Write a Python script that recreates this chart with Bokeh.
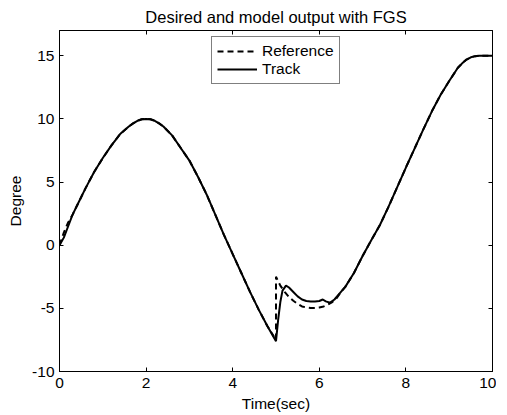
from bokeh.plotting import figure
from bokeh.layouts import row
from bokeh.models import (LinearAxis, Legend, LegendItem, FixedTicker,
                          CustomJSTickFormatter, Range1d, Spacer)
from bokeh.embed import file_html
from bokeh.resources import INLINE

# ---- data ----
time_ref = [0.0, 0.1, 0.2, 0.3, 0.4, 0.6, 0.8, 1.0, 1.2, 1.4, 1.6, 1.7, 1.8, 1.9, 2.0,
            2.1, 2.2, 2.3, 2.4, 2.6, 2.8, 3.0, 3.2, 3.4, 3.6, 3.8, 4.0, 4.2, 4.4, 4.6,
            4.8, 5.0, 5.0, 5.1, 5.2, 5.3, 5.4, 5.5, 5.6, 5.7, 5.8, 5.9, 6.0,
            6.1, 6.2, 6.3, 6.4, 6.5, 6.6, 6.8, 7.0, 7.2, 7.4, 7.6, 7.8, 8.0,
            8.2, 8.4, 8.6, 8.8, 9.0, 9.2, 9.3, 9.4, 9.5, 9.6, 9.7, 9.8, 10.0]
degree_ref = [0.0, 1.0, 1.8, 2.4, 3.1, 4.5, 5.8, 6.9, 7.9, 8.8, 9.4, 9.65, 9.85, 9.97, 10.0,
              9.97, 9.85, 9.65, 9.4, 8.7, 7.7, 6.7, 5.4, 4.0, 2.4, 0.8, -0.7, -2.2, -3.7, -5.1,
              -6.4, -7.5, -2.5, -3.2, -3.7, -4.1, -4.4, -4.65, -4.85, -4.93, -4.97, -4.97, -4.93,
              -4.85, -4.7, -4.5, -4.2, -3.7, -3.3, -2.2, -0.85, 0.4, 1.6, 3.05, 4.6, 6.15,
              7.65, 9.15, 10.6, 11.9, 13.0, 14.05, 14.4, 14.7, 14.88, 14.97, 15.0, 15.0, 15.0]

time_track = [0.0, 0.1, 0.2, 0.3, 0.4, 0.6, 0.8, 1.0, 1.2, 1.4, 1.6, 1.7, 1.8, 1.9, 2.0,
              2.1, 2.2, 2.3, 2.4, 2.6, 2.8, 3.0, 3.2, 3.4, 3.6, 3.8, 4.0, 4.2, 4.4, 4.6,
              4.8, 5.0, 5.05, 5.1, 5.15, 5.23, 5.3, 5.4, 5.5, 5.6, 5.7, 5.8, 5.9,
              6.0, 6.08, 6.15, 6.25, 6.35, 6.5, 6.6, 6.8, 7.0, 7.2, 7.4, 7.6, 7.8,
              8.0, 8.2, 8.4, 8.6, 8.8, 9.0, 9.2, 9.3, 9.4, 9.5, 9.6, 9.7, 9.8, 10.0]
degree_track = [0.0, 0.6, 1.5, 2.4, 3.1, 4.5, 5.8, 6.9, 7.9, 8.8, 9.4, 9.65, 9.85, 9.97, 10.0,
                9.97, 9.85, 9.65, 9.4, 8.7, 7.7, 6.7, 5.4, 4.0, 2.4, 0.8, -0.7, -2.2, -3.7, -5.1,
                -6.4, -7.6, -5.9, -4.5, -3.6, -3.2, -3.35, -3.7, -4.05, -4.3, -4.42, -4.45, -4.45,
                -4.42, -4.3, -4.45, -4.55, -4.3, -3.7, -3.3, -2.2, -0.85, 0.4, 1.6, 3.05, 4.6,
                6.15, 7.65, 9.15, 10.6, 11.9, 13.0, 14.05, 14.4, 14.7, 14.88, 14.97, 15.0, 15.0, 15.0]

x_ticks = [0, 2, 4, 6, 8, 10]
y_ticks = [-10, -5, 0, 5, 10, 15]

FONT = "Liberation Sans"
FS = "15.5px"

p = figure(frame_width=433, frame_height=341,
           x_range=Range1d(0, 10), y_range=Range1d(-10, 17),
           output_backend="svg", toolbar_location=None,
           min_border_left=0, min_border_right=4,
           min_border_top=0, min_border_bottom=0,
           background_fill_color="white", border_fill_color="white")

p.title.text = "Desired and model output with FGS"
p.title.align = "center"
p.title.text_font = FONT
p.title.text_font_size = "16.5px"
p.title.text_font_style = "normal"
p.title.text_color = "black"
p.title.standoff = 10

p.xgrid.visible = False
p.ygrid.visible = False
p.outline_line_color = "black"

r_ref = p.line(time_ref, degree_ref, line_color="black", line_width=2,
               line_dash="6 4")
r_track = p.line(time_track, degree_track, line_color="black", line_width=2)


def style_axis(ax, ticks, show_labels=True):
    ax.ticker = FixedTicker(ticks=ticks)
    ax.major_tick_in = 4
    ax.major_tick_out = 0
    ax.minor_tick_line_color = None
    ax.axis_line_color = "black"
    ax.axis_line_width = 1
    ax.major_tick_line_color = "black"
    ax.major_label_text_font = FONT
    ax.major_label_text_font_size = FS
    ax.major_label_text_color = "black"
    ax.axis_label_text_font = FONT
    ax.axis_label_text_font_size = FS
    ax.axis_label_text_font_style = "normal"
    ax.axis_label_text_color = "black"
    if show_labels:
        ax.formatter = CustomJSTickFormatter(code="return String(tick)")
    else:
        ax.formatter = CustomJSTickFormatter(code="return ''")
        ax.major_label_standoff = 0


style_axis(p.xaxis[0], x_ticks)
style_axis(p.yaxis[0], y_ticks)
p.xaxis[0].axis_label = "Time(sec)"
p.yaxis[0].axis_label = "Degree"
p.xaxis[0].major_label_standoff = 6
p.xaxis[0].axis_label_standoff = 4
p.yaxis[0].major_label_standoff = 5
p.yaxis[0].axis_label_standoff = 5

top_ax = LinearAxis()
style_axis(top_ax, x_ticks, show_labels=False)
p.add_layout(top_ax, "above")
right_ax = LinearAxis()
style_axis(right_ax, y_ticks, show_labels=False)
p.add_layout(right_ax, "right")

legend = Legend(items=[LegendItem(label="Reference", renderers=[r_ref]),
                       LegendItem(label="Track", renderers=[r_track])],
                location=(152, 287))
legend.border_line_color = "black"
legend.border_line_width = 1
legend.background_fill_color = "white"
legend.background_fill_alpha = 1
legend.padding = 5
legend.spacing = 0
legend.margin = 0
legend.glyph_width = 40
legend.glyph_height = 18
legend.label_height = 18
legend.label_standoff = 5
legend.label_text_font = FONT
legend.label_text_font_size = FS
legend.label_text_color = "black"
p.add_layout(legend)

page = row(Spacer(width=4, height=10), p)

open("out.html", "w").write(file_html(page, INLINE))
